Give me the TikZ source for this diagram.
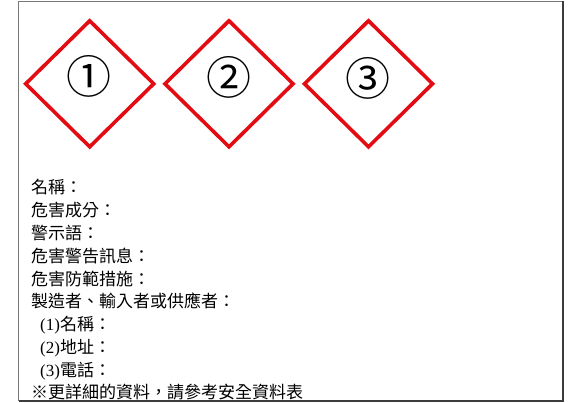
\documentclass[tikz,border=0pt]{standalone}
\usepackage{fontspec}
\setmainfont{Liberation Serif}
\newfontfamily\cjk{Noto Sans CJK TC}
\definecolor{ghsred}{RGB}{226,12,18}
\definecolor{framegray}{RGB}{120,120,120}
\definecolor{framedark}{RGB}{60,60,60}
\begin{document}
\begin{tikzpicture}[x=1pt,y=-1pt,
  diam/.style={draw=ghsred,line width=3.6pt,line join=miter},
  num/.style={inner sep=0pt,font=\cjk\fontsize{45}{45}\selectfont},
  txt/.style={anchor=base west,inner sep=0pt,font=\fontsize{17}{20}\selectfont}]
\useasboundingbox (0,0) rectangle (568,403);
\fill[white] (0,0) rectangle (568,403);
% frame
\draw[framegray,line width=1pt] (18.5,1.5) rectangle (563,400.5);
\draw[framedark,line width=2pt] (563,1.5) -- (563,401) -- (18.5,401);
% diamonds
\coordinate (c1) at (89.7,83.8);
\coordinate (c2) at (229,83.8);
\coordinate (c3) at (368.5,83.8);
\foreach \c in {c1,c2,c3}{
  \draw[diam] (\c) ++(0,-63) -- ++(64,63) -- ++(-64,63) -- ++(-64,-63) -- cycle;
}
\node[num] (n1) at (89,76.5) {①};
\node[num] (n2) at (229,77) {②};
\node[num] (n3) at (368,78) {③};
% text lines
\node[txt] (t1) at (31,194) {\cjk 名稱：};
\node[txt] (t2) at (31,216.8) {\cjk 危害成分：};
\node[txt] (t3) at (31,239.6) {\cjk 警示語：};
\node[txt] (t4) at (31,262.3) {\cjk 危害警告訊息：};
\node[txt] (t5) at (31,285.1) {\cjk 危害防範措施：};
\node[txt] (t6) at (31,307.9) {\cjk 製造者、輸入者或供應者：};
\node[txt] (t7) at (40,330.7) {(1){\cjk 名稱：}};
\node[txt] (t8) at (40,353.4) {(2){\cjk 地址：}};
\node[txt] (t9) at (40,376.2) {(3){\cjk 電話：}};
\node[txt] (t10) at (31,399) {\cjk ※更詳細的資料，請參考安全資料表};
\end{tikzpicture}
\end{document}
